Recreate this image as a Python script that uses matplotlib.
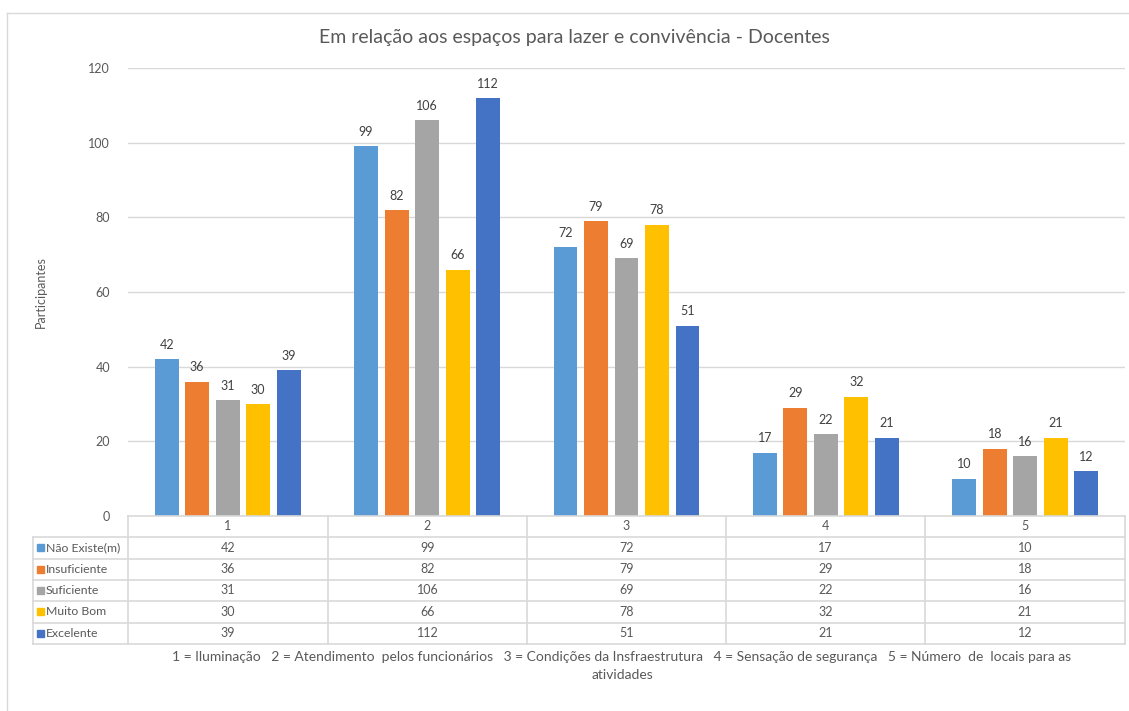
import matplotlib
matplotlib.use("Agg")
import matplotlib.pyplot as plt
import numpy as np
from matplotlib.patches import Rectangle
from matplotlib.lines import Line2D

plt.rcParams['font.family'] = ['Lato', 'DejaVu Sans']

categories = ["1", "2", "3", "4", "5"]
series_names = ["Não Existe(m)", "Insuficiente", "Suficiente", "Muito Bom", "Excelente"]
nao_existe = [42, 99, 72, 17, 10]
insuficiente = [36, 82, 79, 29, 18]
suficiente = [31, 106, 69, 22, 16]
muito_bom = [30, 66, 78, 32, 21]
excelente = [39, 112, 51, 21, 12]
series_values = [nao_existe, insuficiente, suficiente, muito_bom, excelente]
colors = ["#5B9BD5", "#ED7D31", "#A5A5A5", "#FFC000", "#4472C4"]
title = "Em relação aos espaços para lazer e convivência - Docentes"
ylabel = "Participantes"
footer1 = ("1 = Iluminação   2 = Atendimento  pelos funcionários   3 = Condições da Insfraestrutura"
           "   4 = Sensação de segurança   5 = Número  de  locais para as")
footer2 = "atividades"

W, H = 1129, 711
fig = plt.figure(figsize=(W / 100, H / 100), dpi=100)

def fx(x):
    return x / W

def fy(y):
    return 1 - y / H

text_c = "#595959"
grid_c = "#D9D9D9"

# outer chart border
fig.add_artist(Line2D([fx(7), fx(1128)], [fy(13), fy(13)], color=grid_c, lw=1))
fig.add_artist(Line2D([fx(7), fx(7)], [fy(13), fy(711)], color=grid_c, lw=1))

# main axes
L, R, T, B = 128, 1125, 68, 516
ax = fig.add_axes([fx(L), fy(B), fx(R) - fx(L), fy(T) - fy(B)])
n = len(categories)
x = np.arange(n)
step = 0.153
width = 0.12
for i, (vals, c) in enumerate(zip(series_values, colors)):
    pos = x + (i - 2) * step
    ax.bar(pos, vals, width=width, color=c, zorder=3)
    for p, v in zip(pos, vals):
        ax.annotate(str(v), (p, v), xytext=(0, 6), textcoords="offset points",
                    ha="center", va="bottom", fontsize=9, color="#404040")
ax.set_xlim(-0.5, n - 0.5)
ax.set_ylim(0, 120)
ax.set_yticks(range(0, 121, 20))
ax.yaxis.grid(True, color=grid_c, lw=1)
ax.set_axisbelow(True)
for s in ["top", "right", "left", "bottom"]:
    ax.spines[s].set_visible(False)
ax.tick_params(axis="y", length=0, pad=13, labelsize=9, labelcolor=text_c)
ax.set_xticks([])
ax.set_ylabel(ylabel, fontsize=9, color=text_c, labelpad=30)

# title
fig.text(fx(574), fy(38), title, ha="center", va="center", fontsize=14, color=text_c)

# table
tab = fig.add_axes([0, 0, 1, 1])
tab.set_xlim(0, W)
tab.set_ylim(H, 0)
tab.axis("off")
row_edges = [516, 537, 558.5, 580, 601, 622.5, 644]
col_edges = [128, 328, 527, 726, 925, 1125]
lc = "#D9D9D9"
tab.plot([128, 1125], [516, 516], color=lc, lw=1.2)
for y in row_edges[1:]:
    tab.plot([33, 1125], [y, y], color=lc, lw=1.2)
tab.plot([33, 33], [537, 644], color=lc, lw=1.2)
for xe in col_edges:
    tab.plot([xe, xe], [516, 644], color=lc, lw=1.2)
for j, cat in enumerate(categories):
    cx = (col_edges[j] + col_edges[j + 1]) / 2
    tab.text(cx, (row_edges[0] + row_edges[1]) / 2, cat, ha="center", va="center",
             fontsize=9, color=text_c)
for i, (name, vals, c) in enumerate(zip(series_names, series_values, colors)):
    cy = (row_edges[i + 1] + row_edges[i + 2]) / 2
    tab.add_patch(Rectangle((37, cy - 3.5), 7, 7, color=c))
    tab.text(46, cy, name, ha="left", va="center", fontsize=8.8, color=text_c)
    for j, v in enumerate(vals):
        cx = (col_edges[j] + col_edges[j + 1]) / 2
        tab.text(cx, cy, str(v), ha="center", va="center", fontsize=9, color=text_c)

tab.text(622, 657, footer1, ha="center", va="center", fontsize=10, color=text_c)
tab.text(622, 675, footer2, ha="center", va="center", fontsize=10, color=text_c)

fig.savefig("out.png", dpi=100)
